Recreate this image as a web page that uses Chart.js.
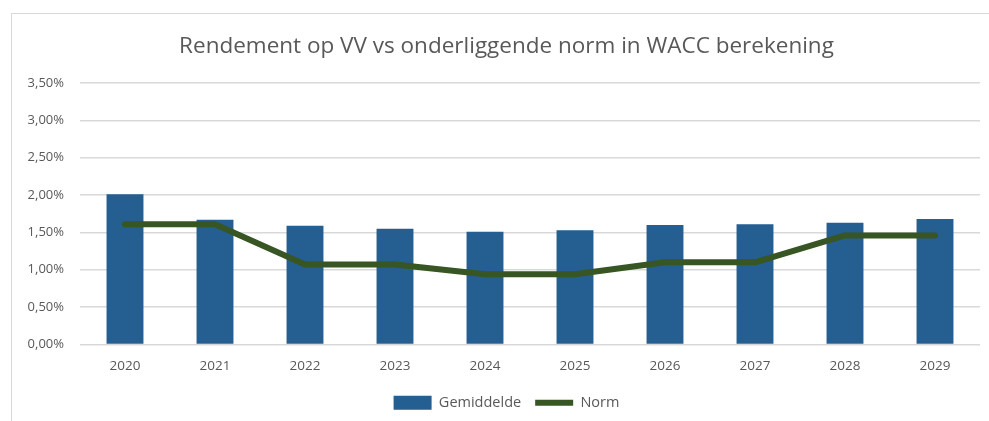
<!DOCTYPE html>
<html>
<head>
<meta charset="utf-8">
<script src="https://cdn.jsdelivr.net/npm/chart.js@4"></script>
<style>
  html, body { margin: 0; padding: 0; background: #fff; overflow: hidden; }
  #wrap {
    position: absolute; left: 11px; top: 13px; width: 989px; height: 408px;
    border-left: 1px solid #d9d9d9; border-top: 1px solid #d9d9d9;
  }
</style>
</head>
<body>
<div id="wrap"><canvas id="rendementChart"></canvas></div>
<script>
const years = ['2020', '2021', '2022', '2023', '2024', '2025', '2026', '2027', '2028', '2029'];
const gemiddelde = [2.01, 1.67, 1.59, 1.55, 1.51, 1.53, 1.60, 1.61, 1.63, 1.68];
const norm = [1.61, 1.61, 1.07, 1.07, 0.94, 0.94, 1.10, 1.10, 1.46, 1.46];
const yMax = 3.5;
const yStep = 0.5;

const fontFamily = "'Open Sans', sans-serif";
const grey = '#595959';

const ctx = document.getElementById('rendementChart').getContext('2d');

const rendementChart = new Chart(ctx, {
    type: 'bar',
    data: {
        labels: years,
        datasets: [{
            type: 'line',
            label: 'Norm',
            data: norm,
            borderColor: '#375623',
            backgroundColor: '#375623',
            borderWidth: 6,
            borderCapStyle: 'round',
            borderJoinStyle: 'round',
            pointRadius: 0,
            pointStyle: 'line',
            tension: 0,
            order: 1
        }, {
            label: 'Gemiddelde',
            data: gemiddelde,
            backgroundColor: '#255e91',
            borderWidth: 0,
            pointStyle: 'rect',
            categoryPercentage: 1,
            barPercentage: 0.41,
            order: 2
        }]
    },
    options: {
        responsive: true,
        maintainAspectRatio: false,
        animation: false,
        layout: { padding: { left: 0, right: 0, top: 0, bottom: 2 } },
        plugins: {
            title: {
                display: true,
                text: 'Rendement op VV vs onderliggende norm in WACC berekening',
                color: grey,
                font: { family: fontFamily, size: 22.5, weight: 'normal' },
                padding: { top: 19, bottom: 23 }
            },
            legend: {
                position: 'bottom',
                reverse: true,
                labels: {
                    color: grey,
                    font: { family: fontFamily, size: 14.5 },
                    usePointStyle: true,
                    pointStyleWidth: 38,
                    boxHeight: 14,
                    padding: 14
                }
            },
            tooltip: { enabled: false }
        },
        scales: {
            x: {
                afterFit: (scale) => { scale.height = 37; },
                grid: { display: false, drawTicks: false },
                border: { display: false },
                ticks: { color: grey, font: { family: fontFamily, size: 13.5 }, padding: 14 }
            },
            y: {
                min: 0,
                max: yMax,
                afterFit: (scale) => { scale.width = 68; },
                grid: { color: '#d9d9d9', lineWidth: 1.5, drawTicks: false },
                border: { display: false },
                ticks: {
                    stepSize: yStep,
                    color: grey,
                    font: { family: fontFamily, size: 13 },
                    padding: 16,
                    callback: (v) => v.toFixed(2).replace('.', ',') + '%'
                }
            },
            // empty right margin so the plot ends where the reference does
            yRight: {
                position: 'right',
                afterFit: (scale) => { scale.width = 21; },
                grid: { display: false, drawTicks: false },
                border: { display: false },
                ticks: { display: false }
            }
        }
    }
});
</script>
</body>
</html>
